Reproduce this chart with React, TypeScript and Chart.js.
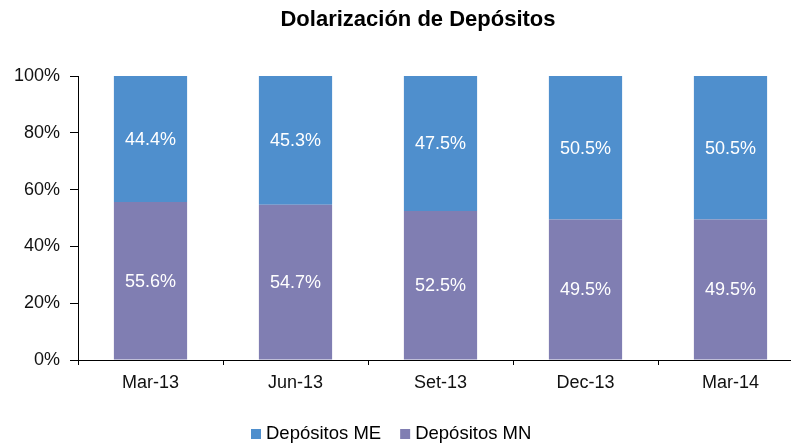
import React, { useEffect, useRef } from "react";
import { Chart, registerables } from "chart.js";

Chart.register(...registerables);

const categories = ["Mar-13", "Jun-13", "Set-13", "Dec-13", "Mar-14"];
const depositosME = [44.4, 45.3, 47.5, 50.5, 50.5];
const depositosMN = [55.6, 54.7, 52.5, 49.5, 49.5];
const seriesNames = ["Depósitos ME", "Depósitos MN"];
const titleText = "Dolarización de Depósitos";

const FONT = "'Liberation Sans', Arial, Helvetica, sans-serif";
const COLOR_ME = "#4F8FCD";
const COLOR_MN = "#807EB2";

const overlayPlugin = {
  id: "overlay",
  afterDatasetsDraw(chart: any) {
    const ctx = chart.ctx;
    ctx.save();
    ctx.font = `18px ${FONT}`;
    ctx.fillStyle = "#ffffff";
    ctx.textAlign = "center";
    ctx.textBaseline = "middle";
    chart.data.datasets.forEach((ds: any, i: number) => {
      const meta = chart.getDatasetMeta(i);
      meta.data.forEach((bar: any, j: number) => {
        const p = bar.getProps(["x", "y", "base"], true);
        ctx.fillText(ds.data[j].toFixed(1) + "%", p.x, (p.y + p.base) / 2 + 1);
      });
    });
    ctx.restore();
  },
  afterDraw(chart: any) {
    const ctx = chart.ctx;
    ctx.save();
    // title
    ctx.font = `bold 22px ${FONT}`;
    ctx.fillStyle = "#000";
    ctx.textAlign = "center";
    ctx.textBaseline = "alphabetic";
    ctx.fillText(titleText, 418, 26);
    // legend
    ctx.font = `18.5px ${FONT}`;
    ctx.textAlign = "left";
    let x = 251;
    const baseY = 439;
    const items = [
      { label: seriesNames[0], color: COLOR_ME },
      { label: seriesNames[1], color: COLOR_MN },
    ];
    items.forEach((it) => {
      ctx.fillStyle = it.color;
      ctx.fillRect(x, baseY - 10, 10, 10);
      ctx.fillStyle = "#000";
      ctx.fillText(it.label, x + 15, baseY);
      x += 15 + ctx.measureText(it.label).width + 19;
    });
    ctx.restore();
  },
};

export default function App() {
  const ref = useRef<HTMLCanvasElement | null>(null);
  useEffect(() => {
    if (!ref.current) return;
    const chart = new Chart(ref.current, {
      type: "bar",
      data: {
        labels: categories,
        datasets: [
          {
            label: seriesNames[1],
            data: depositosMN,
            backgroundColor: COLOR_MN,
            borderWidth: 0,
            categoryPercentage: 1,
            barPercentage: 0.505,
          },
          {
            label: seriesNames[0],
            data: depositosME,
            backgroundColor: COLOR_ME,
            borderWidth: 0,
            categoryPercentage: 1,
            barPercentage: 0.505,
          },
        ],
      },
      options: {
        animation: false,
        responsive: false,
        devicePixelRatio: 1,
        layout: { padding: { left: 0, right: 17, top: 76, bottom: 45 } },
        plugins: {
          legend: { display: false },
          title: { display: false },
          tooltip: { enabled: false },
        },
        scales: {
          x: {
            stacked: true,
            offset: true,
            grid: {
              display: true,
              offset: true,
              drawOnChartArea: false,
              drawTicks: true,
              tickLength: 5,
              color: "#000",
            },
            border: { display: true, color: "#000", width: 1 },
            ticks: {
              color: "#111",
              padding: 7,
              font: { family: FONT, size: 18 },
              maxRotation: 0,
            },
            afterFit(scale: any) {
              scale.height = 40;
            },
          },
          y: {
            stacked: true,
            min: 0,
            max: 100,
            grid: {
              display: true,
              drawOnChartArea: false,
              drawTicks: true,
              tickLength: 8,
              color: "#000",
            },
            border: { display: true, color: "#000", width: 1 },
            ticks: {
              stepSize: 20,
              color: "#111",
              padding: 10,
              font: { family: FONT, size: 18 },
              callback: (v: any) => v + "%",
            },
            afterFit(scale: any) {
              scale.width = 78;
            },
          },
        },
      },
      plugins: [overlayPlugin],
    });
    return () => chart.destroy();
  }, []);
  return (
    <div
      style={{
        position: "fixed",
        left: 0,
        top: 0,
        width: 791,
        height: 445,
        overflow: "hidden",
        background: "#fff",
      }}
    >
      <canvas ref={ref} width={820} height={445} style={{ display: "block" }} />
    </div>
  );
}
